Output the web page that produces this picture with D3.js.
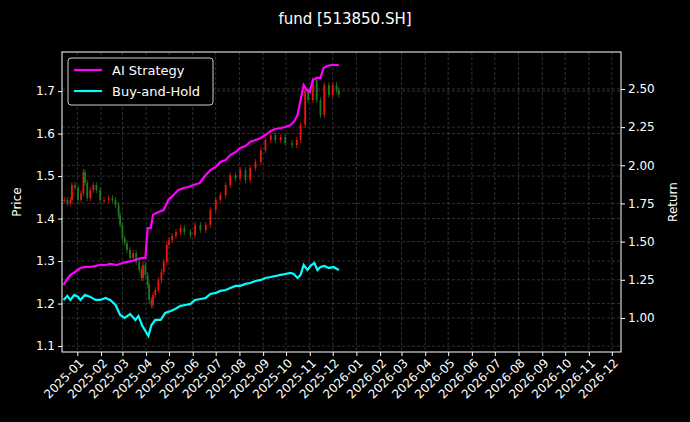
<!DOCTYPE html>
<html>
<head>
<meta charset="utf-8">
<script src="https://cdn.jsdelivr.net/npm/d3@7"></script>
<style>
  body { margin: 0; background: #000; }
  text { font-family: "DejaVu Sans", sans-serif; fill: #fff; }
</style>
</head>
<body>
<div id="chart"></div>
<script>
// closes
const candleDates = ["2024-12-15","2024-12-19","2024-12-23","2024-12-25","2024-12-29","2025-01-02","2025-01-06","2025-01-09","2025-01-11","2025-01-14","2025-01-18","2025-01-22","2025-01-26","2025-01-31","2025-02-05","2025-02-11","2025-02-16","2025-02-20","2025-02-24","2025-02-26","2025-03-01","2025-03-04","2025-03-07","2025-03-11","2025-03-15","2025-03-19","2025-03-23","2025-03-26","2025-03-28","2025-03-31","2025-04-03","2025-04-05","2025-04-08","2025-04-10","2025-04-13","2025-04-17","2025-04-21","2025-04-24","2025-04-28","2025-05-01","2025-05-05","2025-05-10","2025-05-16","2025-05-21","2025-05-29","2025-06-04","2025-06-11","2025-06-18","2025-06-24","2025-07-01","2025-07-07","2025-07-14","2025-07-20","2025-07-27","2025-08-02","2025-08-09","2025-08-15","2025-08-22","2025-08-29","2025-09-04","2025-09-11","2025-09-17","2025-09-24","2025-09-30","2025-10-09","2025-10-15","2025-10-20","2025-10-26","2025-10-30","2025-11-05","2025-11-10","2025-11-15","2025-11-20","2025-11-26","2025-12-01","2025-12-06","2025-12-09"];
const closes = [1.444,1.436,1.444,1.479,1.472,1.444,1.46,1.509,1.484,1.448,1.467,1.479,1.467,1.444,1.444,1.448,1.444,1.432,1.408,1.385,1.354,1.342,1.326,1.307,1.319,1.298,1.279,1.26,1.291,1.267,1.244,1.208,1.196,1.22,1.232,1.255,1.274,1.298,1.338,1.349,1.359,1.368,1.378,1.368,1.361,1.385,1.373,1.385,1.42,1.444,1.455,1.479,1.502,1.495,1.514,1.491,1.519,1.533,1.561,1.585,1.596,1.585,1.592,1.578,1.573,1.585,1.62,1.702,1.679,1.726,1.679,1.644,1.714,1.691,1.714,1.702,1.691];

const aiDates = ["2024-12-14","2024-12-18","2024-12-23","2024-12-29","2025-01-05","2025-01-11","2025-01-18","2025-01-25","2025-01-31","2025-02-07","2025-02-13","2025-02-22","2025-03-01","2025-03-07","2025-03-14","2025-03-21","2025-03-27","2025-03-31","2025-04-03","2025-04-07","2025-04-10","2025-04-17","2025-04-24","2025-04-30","2025-05-07","2025-05-13","2025-05-20","2025-05-26","2025-06-02","2025-06-10","2025-06-18","2025-06-24","2025-07-01","2025-07-07","2025-07-14","2025-07-20","2025-07-27","2025-08-02","2025-08-09","2025-08-15","2025-08-22","2025-08-29","2025-09-04","2025-09-11","2025-09-17","2025-09-24","2025-09-30","2025-10-07","2025-10-11","2025-10-16","2025-10-20","2025-10-24","2025-10-28","2025-11-01","2025-11-05","2025-11-10","2025-11-15","2025-11-19","2025-11-24","2025-11-29","2025-12-09"];
const aiReturn = [1.216,1.249,1.282,1.301,1.327,1.334,1.334,1.341,1.347,1.347,1.354,1.347,1.36,1.367,1.373,1.386,1.393,1.393,1.589,1.589,1.675,1.694,1.707,1.773,1.806,1.838,1.851,1.858,1.871,1.884,1.936,1.969,1.989,2.022,2.035,2.067,2.087,2.113,2.126,2.153,2.166,2.179,2.198,2.225,2.238,2.244,2.251,2.264,2.284,2.329,2.428,2.526,2.493,2.48,2.559,2.572,2.572,2.637,2.65,2.657,2.657];

const bhDates = ["2024-12-14","2024-12-19","2024-12-23","2024-12-28","2025-01-02","2025-01-05","2025-01-11","2025-01-18","2025-01-25","2025-01-31","2025-02-07","2025-02-13","2025-02-20","2025-02-26","2025-03-04","2025-03-11","2025-03-18","2025-03-22","2025-03-27","2025-03-31","2025-04-04","2025-04-08","2025-04-13","2025-04-20","2025-04-26","2025-05-03","2025-05-09","2025-05-16","2025-05-22","2025-05-29","2025-06-04","2025-06-11","2025-06-18","2025-06-24","2025-07-01","2025-07-07","2025-07-14","2025-07-20","2025-07-27","2025-08-02","2025-08-09","2025-08-15","2025-08-22","2025-08-29","2025-09-04","2025-09-11","2025-09-17","2025-09-24","2025-09-30","2025-10-07","2025-10-11","2025-10-16","2025-10-20","2025-10-24","2025-10-29","2025-11-02","2025-11-07","2025-11-11","2025-11-15","2025-11-20","2025-11-26","2025-12-02","2025-12-09"];
const bhReturn = [1.118,1.144,1.118,1.151,1.138,1.118,1.151,1.138,1.118,1.118,1.131,1.118,1.085,1.02,1.0,1.026,0.987,1.013,0.948,0.915,0.882,0.954,0.987,0.987,1.033,1.046,1.059,1.079,1.085,1.092,1.118,1.124,1.131,1.157,1.164,1.177,1.183,1.196,1.21,1.21,1.223,1.229,1.242,1.249,1.262,1.268,1.275,1.282,1.288,1.295,1.288,1.262,1.282,1.347,1.314,1.341,1.36,1.314,1.334,1.341,1.327,1.334,1.314];

const priceTicks = [1.1, 1.2, 1.3, 1.4, 1.5, 1.6, 1.7];
const returnTicks = [1.0, 1.25, 1.5, 1.75, 2.0, 2.25, 2.5];
const title = "fund [513850.SH]";

const W = 690, H = 422;
const m = { left: 62, right: 69, top: 52, bottom: 70 };
const parse = d3.timeParse("%Y-%m-%d");

const svg = d3.select("#chart").append("svg").attr("width", W).attr("height", H)
  .style("background", "#000");

const x = d3.scaleTime()
  .domain([parse("2024-12-12"), parse("2026-12-13")])
  .range([m.left, W - m.right]);
const yP = d3.scaleLinear().domain([1.086, 1.792]).range([H - m.bottom, m.top]);
const yR = d3.scaleLinear().domain([0.777, 2.742]).range([H - m.bottom, m.top]);

const monthTicks = d3.timeMonth.range(parse("2025-01-01"), parse("2026-12-02"));

// grid
const grid = svg.append("g").attr("stroke", "#666").attr("stroke-width", 0.6)
  .attr("stroke-dasharray", "3,2").attr("opacity", 0.8);
monthTicks.forEach(d => grid.append("line").attr("x1", x(d)).attr("x2", x(d))
  .attr("y1", m.top).attr("y2", H - m.bottom));
priceTicks.forEach(v => grid.append("line").attr("x1", m.left).attr("x2", W - m.right)
  .attr("y1", yP(v)).attr("y2", yP(v)));
returnTicks.forEach(v => grid.append("line").attr("x1", m.left).attr("x2", W - m.right)
  .attr("y1", yR(v)).attr("y2", yR(v)));

// candles
const candles = closes.map((c, i) => ({
  date: parse(candleDates[i]), open: i ? closes[i - 1] : c, close: c
}));
const cg = svg.append("g");
candles.forEach(d => {
  const up = d.close >= d.open;
  const col = up ? "#e8160c" : "#1f7a1f";
  const hi = Math.max(d.open, d.close), lo = Math.min(d.open, d.close);
  cg.append("line").attr("x1", x(d.date)).attr("x2", x(d.date))
    .attr("y1", yP(hi) - 3).attr("y2", yP(lo) + 3).attr("stroke", col).attr("stroke-width", 0.8);
  cg.append("rect").attr("x", x(d.date) - 0.9).attr("width", 1.8)
    .attr("y", yP(hi)).attr("height", Math.max(1, yP(lo) - yP(hi))).attr("fill", col);
});

const line = d3.line().x(d => x(d[0])).y(d => yR(d[1]));
svg.append("path").datum(aiDates.map((d, i) => [parse(d), aiReturn[i]]))
  .attr("d", line).attr("fill", "none").attr("stroke", "#ff00ff").attr("stroke-width", 2.2);
svg.append("path").datum(bhDates.map((d, i) => [parse(d), bhReturn[i]]))
  .attr("d", line).attr("fill", "none").attr("stroke", "#00ffff").attr("stroke-width", 2.2);

// frame
svg.append("rect").attr("x", m.left).attr("y", m.top)
  .attr("width", W - m.right - m.left).attr("height", H - m.bottom - m.top)
  .attr("fill", "none").attr("stroke", "#fff").attr("stroke-width", 1);

// axes
const xAxis = svg.append("g").attr("transform", `translate(0,${H - m.bottom})`)
  .call(d3.axisBottom(x).tickValues(monthTicks).tickFormat(d3.timeFormat("%Y-%m")).tickSize(4));
xAxis.selectAll("text").attr("font-size", 12).attr("text-anchor", "end")
  .attr("dx", "-0.3em").attr("dy", "0.5em").attr("transform", "rotate(-45)");

const yAxisL = svg.append("g").attr("transform", `translate(${m.left},0)`)
  .call(d3.axisLeft(yP).tickValues(priceTicks).tickFormat(d3.format(".1f")).tickSize(4));
yAxisL.selectAll("text").attr("font-size", 12);
const yAxisR = svg.append("g").attr("transform", `translate(${W - m.right},0)`)
  .call(d3.axisRight(yR).tickValues(returnTicks).tickFormat(d3.format(".2f")).tickSize(4));
yAxisR.selectAll("text").attr("font-size", 12);
svg.selectAll(".domain").remove();
svg.selectAll(".tick line").attr("stroke", "#fff");

svg.append("text").attr("x", W / 2).attr("y", 24).attr("text-anchor", "middle")
  .attr("font-size", 15).text(title);
svg.append("text").attr("transform", `translate(21,${(m.top + H - m.bottom) / 2}) rotate(-90)`)
  .attr("text-anchor", "middle").attr("font-size", 12).text("Price");
svg.append("text").attr("transform", `translate(677,${(m.top + H - m.bottom) / 2}) rotate(-90)`)
  .attr("text-anchor", "middle").attr("font-size", 12).text("Return");

// legend
const lg = svg.append("g").attr("transform", "translate(68,58)");
lg.append("rect").attr("width", 145).attr("height", 47).attr("rx", 3)
  .attr("fill", "#000").attr("stroke", "#ccc");
[["AI Strategy", "#ff00ff"], ["Buy-and-Hold", "#00ffff"]].forEach(([t, c], i) => {
  lg.append("line").attr("x1", 6).attr("x2", 34).attr("y1", 12 + i * 21).attr("y2", 12 + i * 21)
    .attr("stroke", c).attr("stroke-width", 2.2);
  lg.append("text").attr("x", 44).attr("y", 16.5 + i * 21).attr("font-size", 13).text(t);
});
</script>
</body>
</html>
